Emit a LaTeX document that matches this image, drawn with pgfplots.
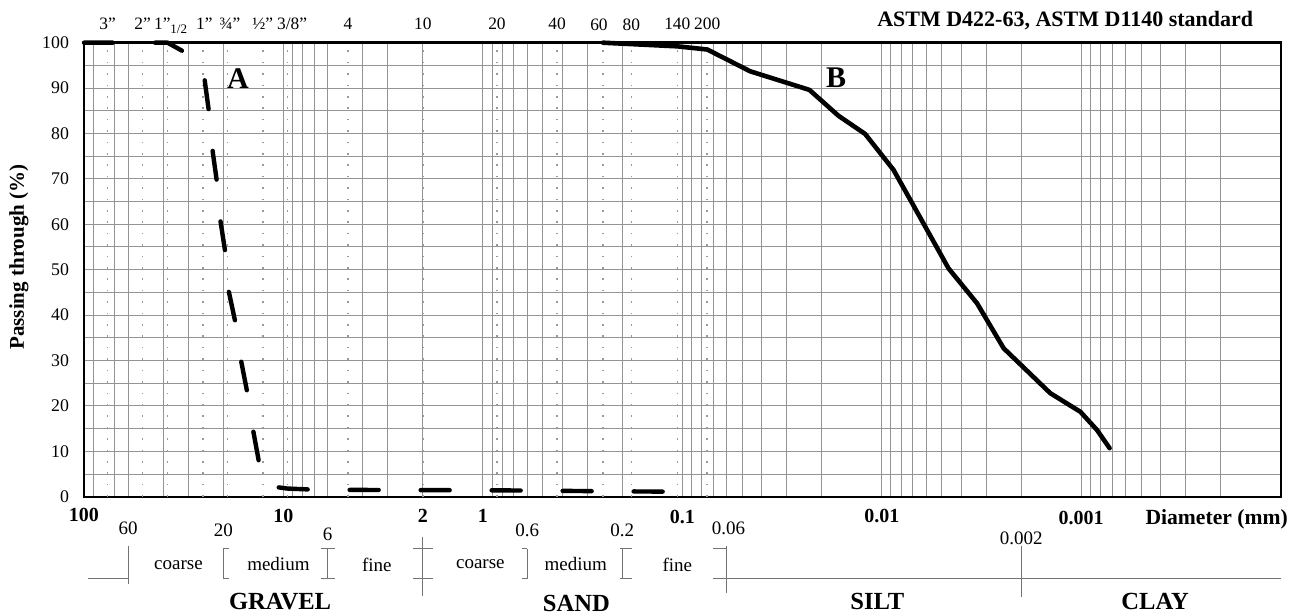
\documentclass[border=0pt]{standalone}
\usepackage{fontspec}
\setmainfont{Liberation Serif}
\usepackage{pgfplots}
\pgfplotsset{compat=1.18}

\pgfplotstableread{
d p
100 100
38.1 100
25.4 95.7
24.7 91
23.5 84
22.6 75.8
21.5 69
20.7 60.8
19.6 54
18.9 45.7
17.5 38.8
16.4 30.5
15.3 23.7
14.3 15.4
13.4 8.7
12.7 2.4
11.2 2.2
9.6 1.8
7.5 1.6
4.75 1.5
2.0 1.45
0.85 1.4
0.425 1.3
0.25 1.2
0.106 1.1
}\curveA

\pgfplotstableread{
d p
0.25 100
0.106 99.2
0.075 98.5
0.0457 93.7
0.02305 89.6
0.01649 83.9
0.01212 79.9
0.00874 72
0.0072 65.4
0.00463 50.3
0.00333 42.6
0.00245 32.7
0.00143 22.8
0.00101 18.7
0.000834 14.7
0.000721 10.7
}\curveB

\begin{document}
\begin{tikzpicture}
\useasboundingbox (-42pt,-59.65pt) rectangle (607pt,248.35pt);
\begin{axis}[
  at={(0pt,0pt)}, anchor=south west,
  scale only axis, width=598.35pt, height=227pt,
  xmode=log, x dir=reverse, xmin=0.0001, xmax=100, ymin=0, ymax=100,
  clip=false,
  axis line style={line width=1.2pt, black},
  major tick length=0pt, minor tick length=0pt,
  xtick={10,2,1,0.1,0.01,0.001}, xticklabels={},
  minor xtick={90,70,60,40,30,20,9,8,7,6,4,3,0.9,0.8,0.7,0.6,0.5,0.4,0.3,0.2,0.09,0.08,0.07,0.06,0.05,0.04,0.03,0.02,0.009,0.008,0.007,0.006,0.005,0.004,0.003,0.002,0.0009,0.0008,0.0007,0.0006,0.0005,0.0004,0.0003,0.0002},
  ytick={0,10,...,100}, minor ytick={5,15,...,95},
  xmajorgrids=true, xminorgrids=true, ymajorgrids=true, yminorgrids=true,
  major grid style={black!42, line width=0.5pt},
  minor grid style={black!42, line width=0.5pt},
  extra x ticks={76.2,50.8,38.1,25.4,19.05,12.7,9.525,4.75,2.0,0.85,0.425,0.25,0.18,0.106,0.075},
  extra x tick labels={},
  extra x tick style={grid=major, major grid style={black!40, line width=0.8pt, dash pattern=on 0.8pt off 4.9pt}},
  /pgf/number format/assume math mode=true,
  yticklabel style={font=\fontsize{8.9}{10}\selectfont, xshift=-4pt},
]
\addplot[black, line width=2.2pt, line cap=round, line join=round, dash pattern=on 14.5pt off 21pt] table[x=d, y=p] {\curveA};
\addplot[black, line width=2.3pt, line join=round, line cap=round] table[x=d, y=p] {\curveB};

% curve letters
\node[font=\bfseries\fontsize{15}{16}\selectfont] at (axis cs:16.9,92.2) {A};
\node[font=\bfseries\fontsize{15}{16}\selectfont] at (axis cs:0.01693,92.3) {B};

% title
\node[anchor=base west, inner sep=0pt, font=\bfseries\fontsize{11}{12}\selectfont] at (axis cs:0.01058,103.5) {ASTM D422-63, ASTM D1140 standard};

% top sieve labels
\begin{scope}[every node/.style={anchor=base, font=\fontsize{8.7}{10}\selectfont, inner sep=0pt}]
\node at (axis cs:76.2,102.9) {3”};
\node at (axis cs:50.8,102.9) {2”};
\node[xshift=1.5pt] at (axis cs:38.1,102.9) {1”\raisebox{-0.55ex}{\fontsize{6.5}{7}\selectfont 1/2}};
\node[xshift=0.8pt] at (axis cs:25.4,102.9) {1”};
\node[xshift=1.2pt] at (axis cs:19.05,102.9) {¾”};
\node at (axis cs:12.7,102.9) {½”};
\node[xshift=2.2pt] at (axis cs:9.525,102.9) {3/8”};
\node at (axis cs:4.75,102.9) {4};
\node at (axis cs:2.0,102.9) {10};
\node at (axis cs:0.85,102.9) {20};
\node at (axis cs:0.425,102.9) {40};
\node[xshift=-2pt] at (axis cs:0.25,102.6) {60};
\node at (axis cs:0.18,102.6) {80};
\node at (axis cs:0.106,102.9) {140};
\node at (axis cs:0.075,102.9) {200};
\end{scope}

% bold diameter labels
\begin{scope}[every node/.style={anchor=base, font=\bfseries\fontsize{10}{11}\selectfont, inner sep=0pt}]
\node at (axis cs:100,-5.5) {100};
\node at (axis cs:10,-5.6) {10};
\node at (axis cs:2,-5.7) {2};
\node at (axis cs:1,-5.7) {1};
\node at (axis cs:0.1,-6.0) {0.1};
\node at (axis cs:0.01,-5.6) {0.01};
\node at (axis cs:0.001,-6.2) {0.001};
\node[anchor=base west, font=\bfseries\fontsize{10.8}{12}\selectfont] at (axis cs:0.000478,-6.2) {Diameter (mm)};
\end{scope}

% boundary values
\begin{scope}[every node/.style={anchor=base, font=\fontsize{9.5}{11}\selectfont, inner sep=0pt}]
\node at (axis cs:60,-8.4) {60};
\node at (axis cs:20,-8.8) {20};
\node at (axis cs:6,-9.7) {6};
\node at (axis cs:0.6,-8.7) {0.6};
\node at (axis cs:0.2,-8.8) {0.2};
\node[xshift=1pt] at (axis cs:0.06,-8.4) {0.06};
\node at (axis cs:0.002,-10.6) {0.002};
\end{scope}

% classification brackets
\begin{scope}[black!55, line width=0.55pt]
\draw (axis cs:95.5,-18.1) -- (axis cs:60,-18.1);
\draw (axis cs:60,-10.8) -- (axis cs:60,-19.2);
\draw (axis cs:20,-11.5) -- (axis cs:20,-18.1);
\draw (axis cs:20,-11.5) -- ++(3pt,0pt);
\draw (axis cs:20,-18.1) -- ++(3pt,0pt);
\draw (axis cs:6,-11.5) -- (axis cs:6,-18.1);
\draw (axis cs:6,-11.5) ++(-3.5pt,0pt) -- ++(7pt,0pt);
\draw (axis cs:6,-18.1) ++(-3.5pt,0pt) -- ++(7pt,0pt);
\draw (axis cs:2,-8.8) -- (axis cs:2,-21.9);
\draw (axis cs:2,-11.5) ++(-5pt,0pt) -- ++(10pt,0pt);
\draw (axis cs:2,-18.1) ++(-5pt,0pt) -- ++(10pt,0pt);
\draw (axis cs:0.6,-11.5) -- (axis cs:0.6,-18.1);
\draw (axis cs:0.6,-11.5) -- ++(-2.5pt,0pt);
\draw (axis cs:0.6,-18.1) -- ++(-2.5pt,0pt);
\draw (axis cs:0.2,-11.5) -- (axis cs:0.2,-18.1);
\draw (axis cs:0.2,-11.5) ++(-1pt,0pt) -- ++(6pt,0pt);
\draw (axis cs:0.2,-18.1) ++(-1pt,0pt) -- ++(6pt,0pt);
\draw (axis cs:0.06,-10.8) -- (axis cs:0.06,-21.2);
\draw (axis cs:0.06,-11.5) -- ++(-7pt,0pt);
\draw (axis cs:0.06,-18.1) ++(-7pt,0pt) -- (axis cs:0.0001,-18.1);
\draw (axis cs:0.002,-10.8) -- (axis cs:0.002,-22.0);
\end{scope}

% class names
\begin{scope}[every node/.style={anchor=base, font=\fontsize{9.5}{11}\selectfont, inner sep=0pt}]
\node at (axis cs:33.6,-16.0) {coarse};
\node at (axis cs:10.6,-16.2) {medium};
\node at (axis cs:3.4,-16.4) {fine};
\node at (axis cs:1.03,-15.9) {coarse};
\node at (axis cs:0.342,-16.2) {medium};
\node at (axis cs:0.106,-16.4) {fine};
\end{scope}
\begin{scope}[every node/.style={anchor=base, font=\bfseries\fontsize{12.3}{14}\selectfont, inner sep=0pt}]
\node at (axis cs:10.4,-24.8) {GRAVEL};
\node at (axis cs:0.34,-25.3) {SAND};
\node at (axis cs:0.01054,-24.8) {SILT};
\node at (axis cs:0.000426,-24.8) {CLAY};
\end{scope}

% y label
\node[rotate=90, font=\bfseries\fontsize{10.5}{12}\selectfont] at (axis cs:211.8,52.8) {Passing through (\%)};
\end{axis}
\end{tikzpicture}
\end{document}
